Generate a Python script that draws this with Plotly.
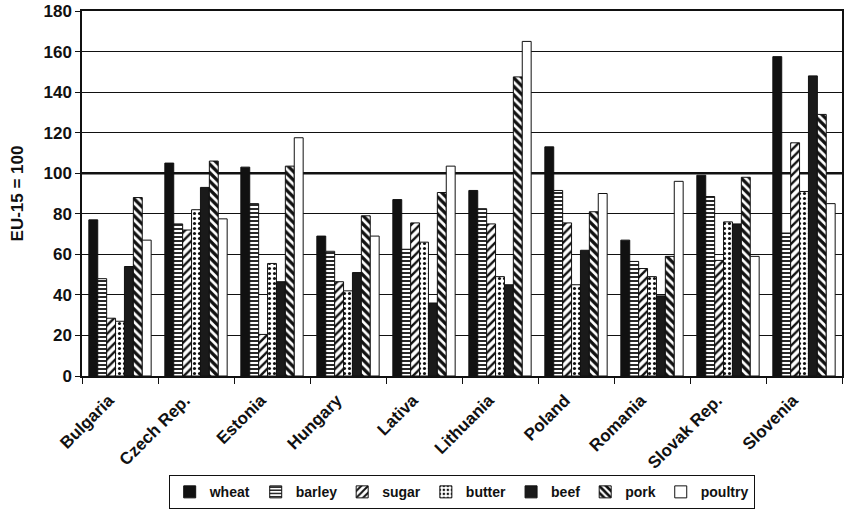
import plotly.graph_objects as go

countries = ["Bulgaria", "Czech Rep.", "Estonia", "Hungary", "Lativa", "Lithuania",
             "Poland", "Romania", "Slovak Rep.", "Slovenia"]
wheat   = [77, 105, 103, 69, 87, 91.5, 113, 67, 99, 157.5]
barley  = [48, 75, 85, 61.5, 62.5, 82.5, 91.5, 56.5, 88.5, 70.5]
sugar   = [28.5, 72, 20.5, 46.5, 75.5, 75, 75.5, 53, 57, 115]
butter  = [27, 82, 55.5, 42, 66, 49, 45, 49, 76, 91]
beef    = [54, 93, 46.5, 51, 36, 45, 62, 39.5, 75, 148]
pork    = [88, 106, 103.5, 79, 90.5, 147.5, 81, 59, 98, 129]
poultry = [67, 77.5, 117.5, 69, 103.5, 165, 90, 96, 59, 85]

series = [
    ("wheat", wheat, dict(color="#111111")),
    ("barley", barley, dict(color="white", pattern=dict(shape="-", fgcolor="#111111", bgcolor="white", size=4, solidity=0.45))),
    ("sugar", sugar, dict(color="white", pattern=dict(shape="/", fgcolor="#111111", bgcolor="white", size=6, solidity=0.4))),
    ("butter", butter, dict(color="white", pattern=dict(shape=".", fgcolor="#111111", bgcolor="white", size=5, solidity=0.3))),
    ("beef", beef, dict(color="#1a1a1a")),
    ("pork", pork, dict(color="white", pattern=dict(shape="\\", fgcolor="#111111", bgcolor="white", size=6, solidity=0.55))),
    ("poultry", poultry, dict(color="white")),
]

fig = go.Figure()
for name, vals, mk in series:
    mk = dict(mk)
    mk["line"] = dict(color="#111111", width=1)
    fig.add_trace(go.Bar(name=name, x=countries, y=vals, marker=mk))

FAM = "Liberation Sans, Arial, sans-serif"

fig.add_shape(type="line", xref="paper", yref="y", x0=0, x1=1, y0=100, y1=100,
              line=dict(color="#111111", width=2.5), layer="below")

fig.update_layout(
    template="none",
    width=844, height=513,
    margin=dict(l=82, r=2, t=11, b=137, autoexpand=False),
    paper_bgcolor="white", plot_bgcolor="white",
    barmode="group", bargap=0.18, bargroupgap=0,
    font=dict(family=FAM, color="#111111"),
    showlegend=True,
    legend=dict(orientation="h", x=0.5, xanchor="center", y=-0.318, yanchor="middle",
                bordercolor="#111111", borderwidth=1.2, bgcolor="white",
                font=dict(family=FAM, size=14, weight="bold", color="#111111"),
                itemwidth=30, tracegroupgap=0),
    xaxis=dict(automargin=False, showline=True, linecolor="#111111", linewidth=1.5, mirror=True,
               showgrid=False,
               ticks="outside", tickson="boundaries", ticklen=6, tickcolor="#111111",
               tickangle=-45, ticklabelshift=-11, ticklabelstandoff=6,
               tickfont=dict(size=17, weight="bold", color="#111111")),
    yaxis=dict(automargin=False, range=[0, 180], dtick=20, showline=True, linecolor="#111111", linewidth=1.5,
               mirror=True, showgrid=True, gridcolor="#111111", gridwidth=1, zeroline=False,
               ticks="outside", ticklen=5, tickcolor="#111111",
               tickfont=dict(size=17, weight="bold", color="#111111"),
               title=dict(text="EU-15 = 100", font=dict(size=17, weight="bold", color="#111111"), standoff=16)),
)

fig.write_html("out.html", config={"displayModeBar": False},
               post_script="document.body.style.margin='0';")
